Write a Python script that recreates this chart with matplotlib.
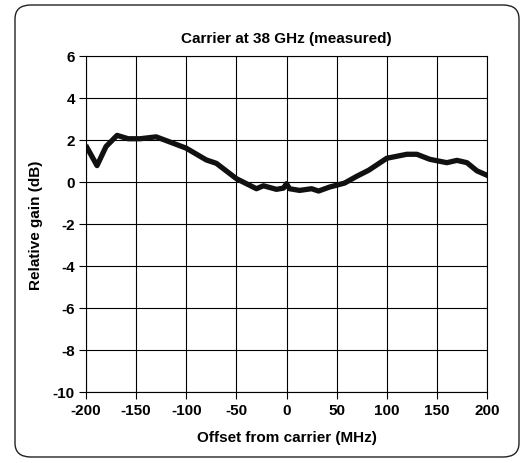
import numpy as np
import matplotlib.pyplot as plt
from matplotlib.patches import FancyBboxPatch

plt.rcParams['font.family'] = ['Liberation Sans', 'DejaVu Sans']
plt.rcParams['font.weight'] = 'bold'
plt.rcParams['axes.unicode_minus'] = False

# measured gain vs offset
offset = [-199, -189, -180, -169, -158, -146, -130, -116, -100, -80, -70, -50,
          -30, -23, -10, -3, 0, 3, 13, 25, 32, 43, 58, 70, 82, 100, 120, 130,
          143, 160, 170, 180, 190, 200]
gain = [1.64, 0.78, 1.69, 2.22, 2.06, 2.06, 2.15, 1.90, 1.61, 1.05, 0.89, 0.16,
        -0.32, -0.18, -0.35, -0.29, -0.08, -0.32, -0.40, -0.32, -0.43, -0.24,
        -0.05, 0.27, 0.56, 1.13, 1.32, 1.32, 1.08, 0.92, 1.03, 0.92, 0.53, 0.32]

xticks = [-200, -150, -100, -50, 0, 50, 100, 150, 200]
yticks = [-10, -8, -6, -4, -2, 0, 2, 4, 6]

fig = plt.figure(figsize=(5.30, 4.64), dpi=100)
ax = fig.add_axes([86/530, 1-393/464, (487-86)/530, (393-57)/464])

box = FancyBboxPatch((15/530, 6/464), 504/530, 452/464,
                     boxstyle="round,pad=0,rounding_size=0.03",
                     transform=fig.transFigure, facecolor='none',
                     edgecolor='#222222', linewidth=1.0)
fig.patches.append(box)

ax.plot(offset, gain, color='#111111', linewidth=3.8, solid_joinstyle='round')

ax.set_xlim(-200, 200)
ax.set_ylim(-10, 6)
ax.set_xticks(xticks)
ax.set_yticks(yticks)
ax.grid(True, color='black', linewidth=0.8)
for s in ax.spines.values():
    s.set_linewidth(0.8)
ax.tick_params(direction='out', length=5, width=0.8, labelsize=11, pad=3)

ax.set_title('Carrier at 38 GHz (measured)', fontsize=11, fontweight='bold', pad=10)
ax.set_xlabel('Offset from carrier (MHz)', fontsize=11, fontweight='bold', labelpad=9)
ax.set_ylabel('Relative gain (dB)', fontsize=11, fontweight='bold', labelpad=7)

fig.savefig('out.png', dpi=100)
